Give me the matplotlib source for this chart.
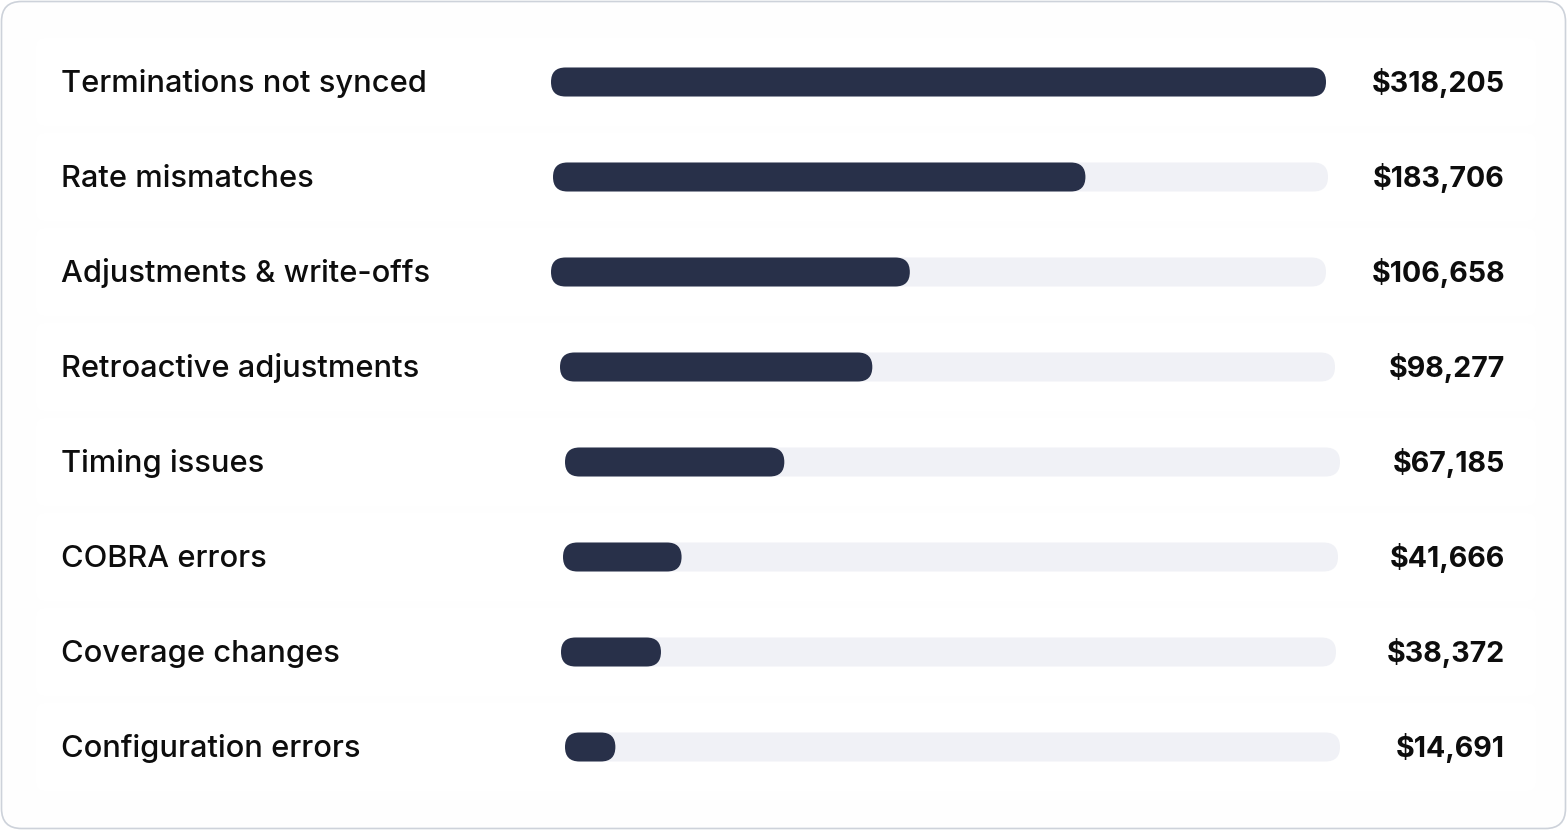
import matplotlib.pyplot as plt
from matplotlib.patches import FancyBboxPatch

# data
categories = [
    "Terminations not synced",
    "Rate mismatches",
    "Adjustments & write-offs",
    "Retroactive adjustments",
    "Timing issues",
    "COBRA errors",
    "Coverage changes",
    "Configuration errors",
]
amounts = [318205, 183706, 106658, 98277, 67185, 41666, 38372, 14691]
# share of the track that each bar fills (as drawn in the reference)
fill_share = [1.0, 0.687, 0.463, 0.403, 0.283, 0.153, 0.129, 0.065]

# layout in pixels
W, H = 1567, 830
ROW_TOP, ROW_STEP = 82, 95
TRACK_X0, TRACK_LEN = 557, 775
BAR_H = 29
row_shift = [-6, -4, -6, 3, 8, 6, 4, 8]

BAR_COLOR = "#283049"
TRACK_COLOR = "#f0f1f6"
FONT = "Inter"

fig = plt.figure(figsize=(W / 100, H / 100), dpi=100)
ax = fig.add_axes([0, 0, 1, 1])
ax.set_xlim(0, W)
ax.set_ylim(H, 0)
ax.axis("off")

# card with rounded border
card = FancyBboxPatch((1.5, 1.5), W - 3, H - 3,
                      boxstyle="round,pad=0,rounding_size=20",
                      facecolor="#fefefe", edgecolor="#cdd2da", linewidth=1.2)
ax.add_patch(card)

r = BAR_H / 2
for i, (name, amt, share) in enumerate(zip(categories, amounts, fill_share)):
    y = ROW_TOP + i * ROW_STEP
    x0 = TRACK_X0 + row_shift[i]

    # faint row band
    ax.add_patch(FancyBboxPatch((36, y - 44), 1500, 88,
                                boxstyle="round,pad=0,rounding_size=8",
                                facecolor="#ffffff", edgecolor="none"))

    # background track
    ax.add_patch(FancyBboxPatch((x0, y - r), TRACK_LEN, BAR_H,
                                boxstyle=f"round,pad=0,rounding_size={r}",
                                facecolor=TRACK_COLOR, edgecolor="none"))
    # filled bar
    ax.add_patch(FancyBboxPatch((x0, y - r), TRACK_LEN * share, BAR_H,
                                boxstyle=f"round,pad=0,rounding_size={r}",
                                facecolor=BAR_COLOR, edgecolor="none"))

    ax.text(61, y + 10, name, fontsize=22.2, family=FONT, fontweight="medium",
            color="#0d0d0d", ha="left", va="baseline")
    ax.text(1505, y + 10, f"${amt:,}", fontsize=20.6, family=FONT,
            fontweight="bold", color="#0d0d0d", ha="right", va="baseline")

fig.savefig("out.png", dpi=100, facecolor="white")
